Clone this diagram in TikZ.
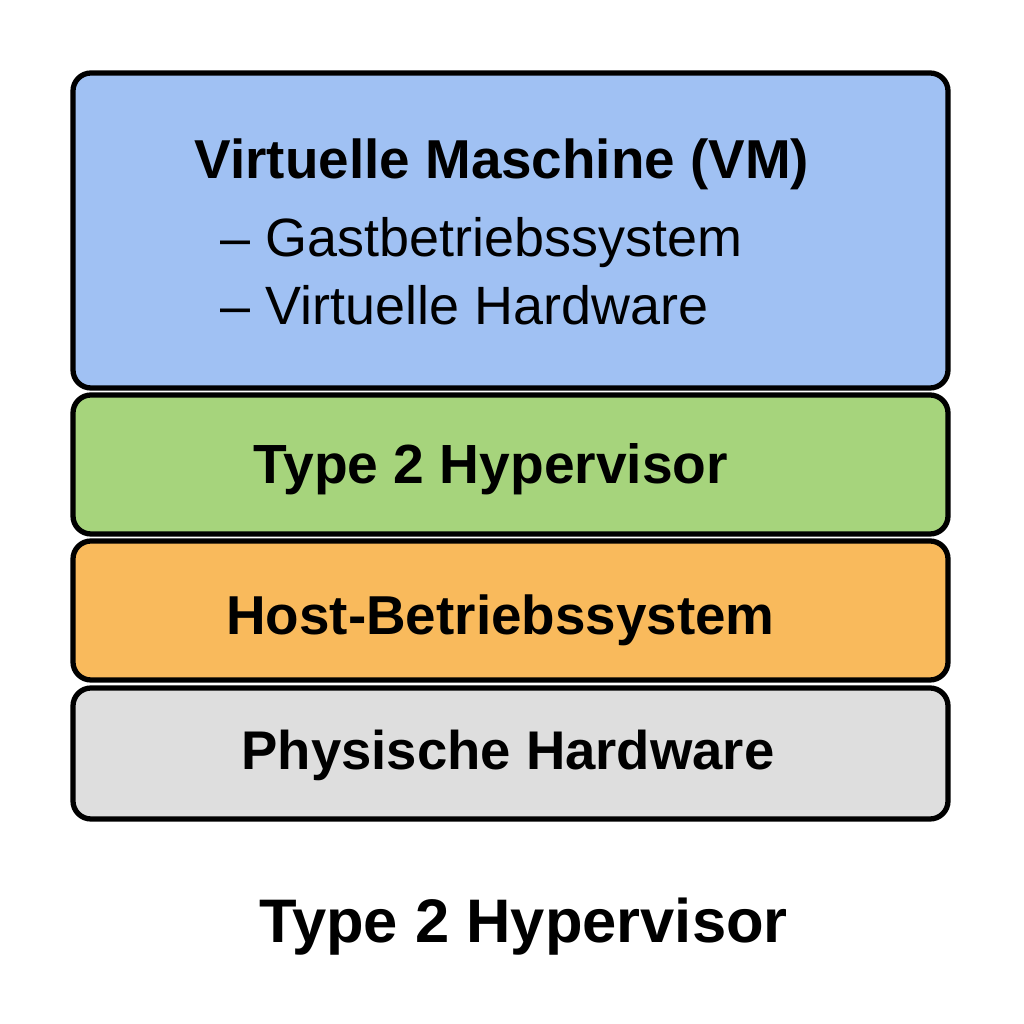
\documentclass[tikz,border=0pt]{standalone}
\usepackage{fontspec}
\setmainfont{Liberation Sans}
\usepackage{tikz}

\definecolor{vmblue}{HTML}{A0C1F3}
\definecolor{hvgreen}{HTML}{A6D47C}
\definecolor{osorange}{HTML}{F9BA5C}
\definecolor{hwgray}{HTML}{DEDEDE}

\begin{document}
\begin{tikzpicture}[layer/.style = {draw, line width=1.5pt, rounded corners=0.18cm, minimum width=8.75cm, inner sep=0pt},
    lbl/.style = {font=\fontsize{15.6}{18}\selectfont\bfseries, inner sep=0pt},
    item/.style = {font=\fontsize{15.35}{18}\selectfont, anchor=west, inner sep=0pt}]
        \useasboundingbox (0,0) rectangle (10.24,10.24);
        \node[layer, fill=vmblue, minimum height=3.15cm] (vm) at (5.105,7.935) {};
        \node[layer, fill=hvgreen, minimum height=1.39cm] (hv) at (5.105,5.595) {};
        \node[layer, fill=osorange, minimum height=1.39cm] (os) at (5.105,4.135) {};
        \node[layer, fill=hwgray, minimum height=1.31cm] (hw) at (5.105,2.705) {};
        \node[lbl] (vmtitle) at (5.02,8.60) {Virtuelle Maschine (VM)};
        \node[item] (guest) at (2.20,7.81) {– Gastbetriebssystem};
        \node[item] (vhw) at (2.20,7.19) {– Virtuelle Hardware};
        \node[lbl, font=\fontsize{15.7}{18}\selectfont\bfseries] (hvlabel) at (4.91,5.545) {Type 2 Hypervisor};
        \node[lbl] (oslabel) at (5.005,4.04) {Host-Betriebssystem};
        \node[lbl, font=\fontsize{15.5}{18}\selectfont\bfseries] (hwlabel) at (5.08,2.69) {Physische Hardware};
        \node[lbl, font=\fontsize{17.5}{20}\selectfont\bfseries] (caption) at (5.235,0.97) {Type 2 Hypervisor};
      \end{tikzpicture}
\end{document}
